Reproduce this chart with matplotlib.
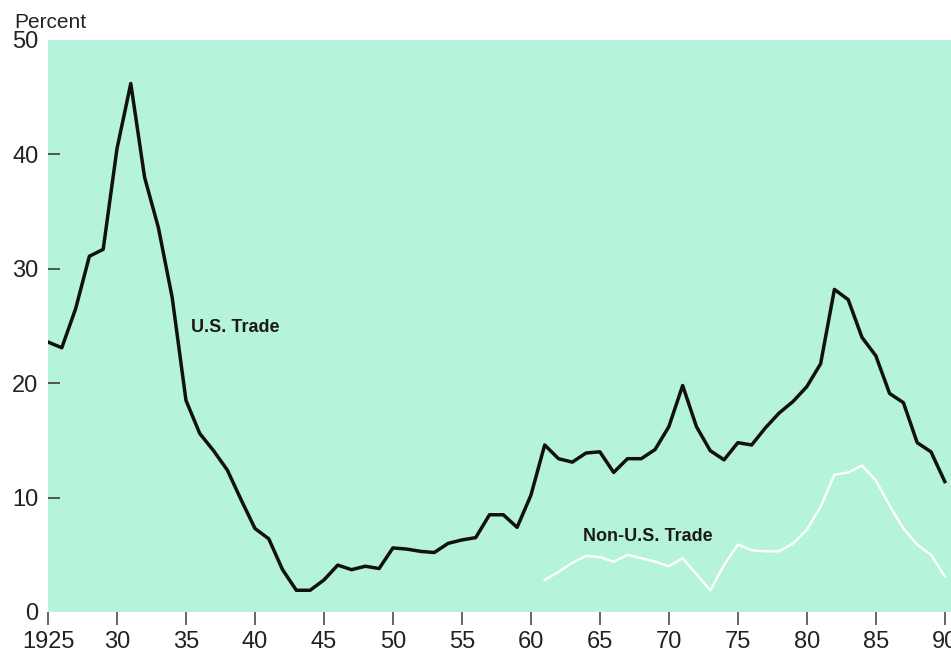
import matplotlib.pyplot as plt

# U.S. trade share, 1925-1990 (percent)
us_years = list(range(1925, 1991))
us_trade = [
    23.6, 23.1, 26.5, 31.1, 31.7, 40.5, 46.2, 38.0, 33.6, 27.5,
    18.5, 15.6, 14.1, 12.4, 9.8, 7.3, 6.4, 3.7, 1.9, 1.9,
    2.8, 4.1, 3.7, 4.0, 3.8, 5.6, 5.5, 5.3, 5.2, 6.0,
    6.3, 6.5, 8.5, 8.5, 7.4, 10.2, 14.6, 13.4, 13.1, 13.9,
    14.0, 12.2, 13.4, 13.4, 14.2, 16.2, 19.8, 16.2, 14.1, 13.3,
    14.8, 14.6, 16.1, 17.4, 18.4, 19.7, 21.7, 28.2, 27.3, 24.0,
    22.4, 19.1, 18.3, 14.8, 14.0, 11.4,
]

# Non-U.S. trade share, 1961-1990 (percent)
non_us_years = list(range(1961, 1991))
non_us_trade = [
    2.8, 3.5, 4.3, 4.9, 4.8, 4.4, 5.0, 4.7, 4.4, 4.0,
    4.7, 3.3, 1.9, 4.1, 5.9, 5.4, 5.3, 5.3, 6.0, 7.2,
    9.2, 12.0, 12.2, 12.8, 11.5, 9.3, 7.3, 5.9, 5.0, 3.1,
]

x_ticks = [1925, 1930, 1935, 1940, 1945, 1950, 1955, 1960, 1965, 1970, 1975, 1980, 1985, 1990]
x_labels = ["1925", "30", "35", "40", "45", "50", "55", "60", "65", "70", "75", "80", "85", "90"]
y_ticks = [0, 10, 20, 30, 40, 50]

plt.rcParams["font.family"] = ["Liberation Sans", "DejaVu Sans"]

fig = plt.figure(figsize=(9.51, 6.54), dpi=100)
ax = fig.add_axes([48 / 951, 42 / 654, 903 / 951, 572 / 654])
ax.set_facecolor("#b5f3da")

ax.plot(us_years, us_trade, color="#111111", lw=2.5)
ax.plot(non_us_years, non_us_trade, color="white", lw=1.7)

ax.text(1935.4, 24.9, "U.S. Trade", fontsize=13, fontweight="bold",
        color="#1a1a1a", va="center")
ax.text(1963.8, 6.6, "Non-U.S. Trade", fontsize=13, fontweight="bold",
        color="#1a1a1a", va="center")

ax.set_xlim(1925, 1990.45)
ax.set_ylim(0, 50)

for s in ax.spines.values():
    s.set_visible(False)

ax.set_xticks(x_ticks)
ax.set_xticklabels(x_labels)
ax.set_yticks(y_ticks)
ax.tick_params(axis="x", direction="out", length=9, width=1.4, color="#666666",
               pad=5, labelsize=17, labelcolor="#222222")
ax.tick_params(axis="y", direction="in", length=8.5, width=1.4, color="#555555",
               pad=7, labelsize=17, labelcolor="#222222")
# no tick dash at 0 and 50
ytl = ax.yaxis.get_major_ticks()
ytl[0].tick1line.set_visible(False)
ytl[-1].tick1line.set_visible(False)

fig.text(14 / 951, 1 - 23 / 654, "Percent", fontsize=15, color="#222222", va="center")

fig.savefig("out.png", dpi=100)
